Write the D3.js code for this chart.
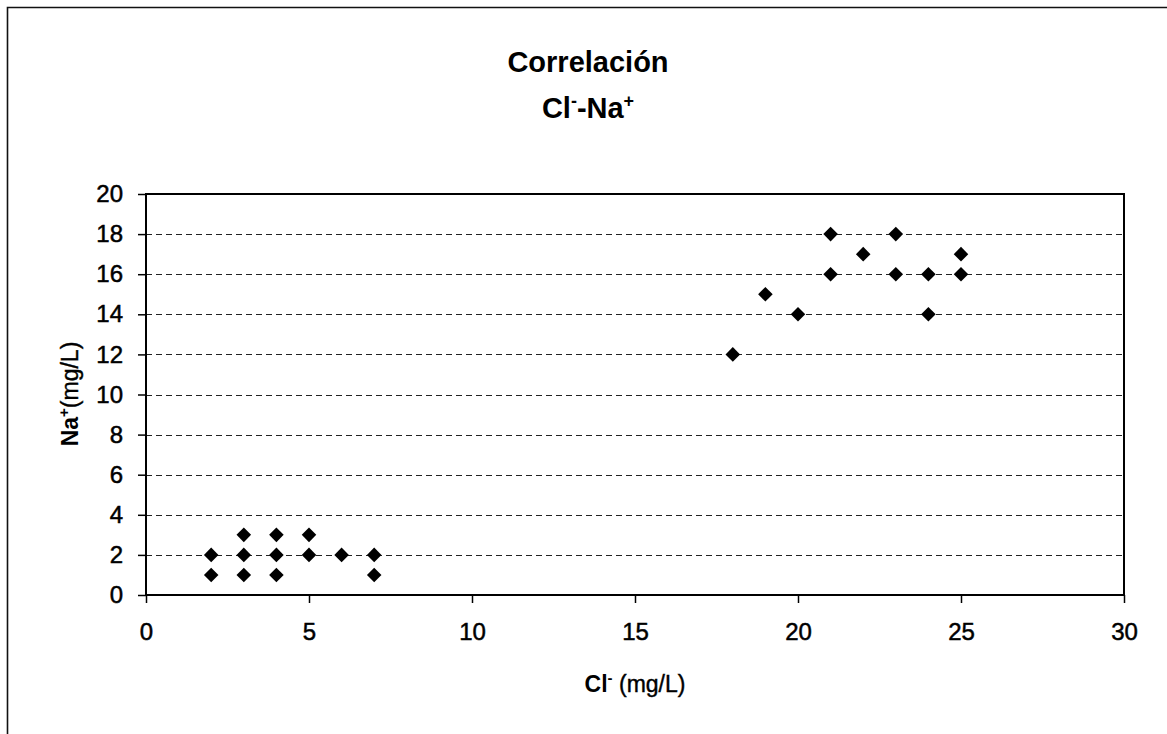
<!DOCTYPE html>
<html><head><meta charset="utf-8">
<script src="https://cdn.jsdelivr.net/npm/d3@7"></script>
<style>body{margin:0;background:#fff}svg{display:block;font-family:Arial,"Liberation Sans",sans-serif}</style>
</head><body>
<svg id="c" width="1167" height="734"></svg>
<script>
const clValues = [2,2,3,3,3,4,4,4,5,5,6,7,7,18,19,20,21,21,22,23,23,24,24,25,25];
const naValues = [2,1,3,2,1,3,2,1,3,2,2,2,1,12,15,14,18,16,17,18,16,16,14,17,16];
const xTicks = [0,5,10,15,20,25,30];
const yTicks = [0,2,4,6,8,10,12,14,16,18,20];

const svg = d3.select("#c");
const L=146, R=1124, T=194, B=595;
const x = d3.scaleLinear().domain([0,30]).range([L,R]);
const y = d3.scaleLinear().domain([0,20]).range([B,T]);

// outer frame (top and left)
svg.append("path").attr("d","M7.5,734 V7.5 H1167").attr("fill","none").attr("stroke","#111").attr("stroke-width",1.6);

// gridlines
svg.append("g").selectAll("line").data(yTicks.filter(d=>d>0&&d<20)).join("line")
  .attr("x1",L).attr("x2",R).attr("y1",d=>Math.round(y(d))+0.5).attr("y2",d=>Math.round(y(d))+0.5)
  .attr("stroke","#222").attr("stroke-width",1.1).attr("stroke-dasharray","6,4");

// plot box
svg.append("rect").attr("x",L).attr("y",T).attr("width",R-L).attr("height",B-T)
  .attr("fill","none").attr("stroke","#000").attr("stroke-width",2);

const xa = svg.append("g").attr("transform",`translate(0,${B})`)
  .call(d3.axisBottom(x).tickValues(xTicks).tickSize(8).tickPadding(20).tickFormat(d3.format("d")));
const ya = svg.append("g").attr("transform",`translate(${L},0)`)
  .call(d3.axisLeft(y).tickValues(yTicks).tickSize(8).tickPadding(15).tickFormat(d3.format("d")));
[xa,ya].forEach(a=>{
  a.select(".domain").remove();
  a.selectAll(".tick line").attr("stroke","#000").attr("stroke-width",1.5);
  a.selectAll("text").attr("font-size",24).attr("fill","#000").attr("stroke","#000").attr("stroke-width",0.5)
    .attr("font-family","Arial, 'Liberation Sans', sans-serif");
});

// points (diamonds)
const sym = d3.symbol().type(d3.symbolDiamond2).size(135);
svg.append("g").selectAll("path").data(clValues.map((v,i)=>[v,naValues[i]])).join("path")
  .attr("transform",d=>`translate(${x(d[0])},${y(d[1])})`).attr("d",sym).attr("fill","#000");

// titles
const t = svg.append("g").attr("font-weight","bold").attr("fill","#000").attr("text-anchor","middle");
t.append("text").attr("x",588).attr("y",72).attr("font-size",29).text("Correlación");
const t2 = t.append("text").attr("x",588).attr("y",118).attr("font-size",29);
t2.append("tspan").text("Cl");
t2.append("tspan").attr("dy",-11).attr("font-size",18).text("-");
t2.append("tspan").attr("dy",11).text("-Na");
t2.append("tspan").attr("dy",-11).attr("font-size",18).text("+");

const xt = svg.append("text").attr("x",635).attr("y",692).attr("text-anchor","middle").attr("font-size",23).attr("font-weight","bold");
xt.append("tspan").text("Cl");
xt.append("tspan").attr("dy",-9).attr("font-size",15).text("-");
xt.append("tspan").attr("dy",9).attr("font-weight","normal").attr("stroke","#000").attr("stroke-width",0.4).text(" (mg/L)");

const yt = svg.append("text").attr("transform","translate(78,394) rotate(-90)").attr("text-anchor","middle").attr("font-size",23).attr("font-weight","bold");
yt.append("tspan").text("Na");
yt.append("tspan").attr("dy",-9).attr("font-size",15).text("+");
yt.append("tspan").attr("dy",9).attr("font-weight","normal").attr("stroke","#000").attr("stroke-width",0.4).text("(mg/L)");
</script>
</body></html>
